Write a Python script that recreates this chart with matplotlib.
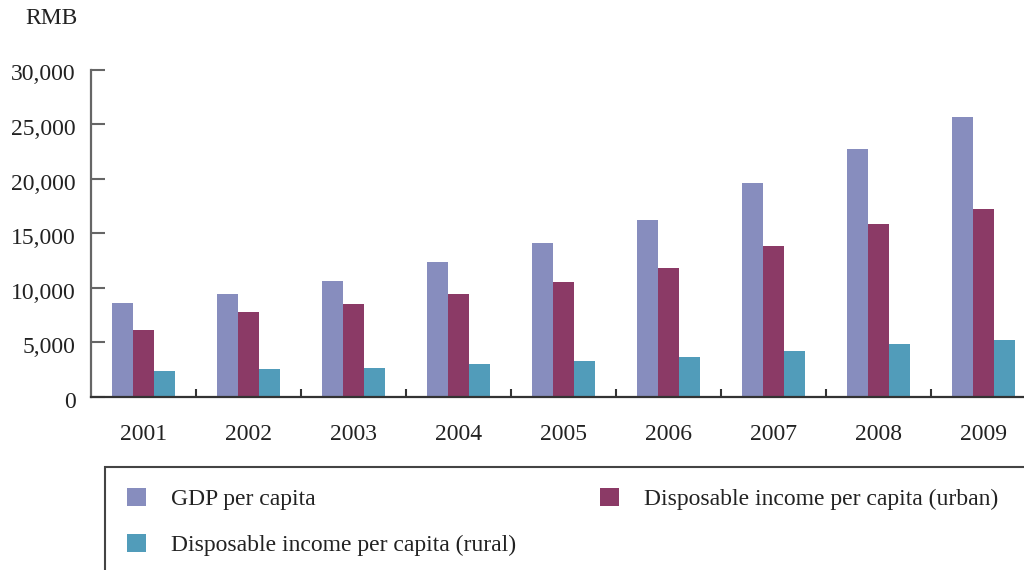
import matplotlib
matplotlib.use("Agg")
import matplotlib.pyplot as plt
import numpy as np
from matplotlib.patches import Rectangle
from matplotlib.transforms import ScaledTranslation

years = ["2001", "2002", "2003", "2004", "2005", "2006", "2007", "2008", "2009"]
gdp_per_capita = [8650, 9400, 10600, 12340, 14080, 16190, 19580, 22690, 25620]
urban_income = [6110, 7760, 8490, 9410, 10510, 11790, 13800, 15820, 17190]
rural_income = [2360, 2540, 2630, 3000, 3270, 3640, 4190, 4830, 5190]
series_labels = ["GDP per capita", "Disposable income per capita (urban)",
                 "Disposable income per capita (rural)"]
yticks = [0, 5000, 10000, 15000, 20000, 25000, 30000]
ytick_labels = ["0", "5,000", "10,000", "15,000", "20,000", "25,000", "30,000"]

colors = ["#878dbe", "#8b3a66", "#519cba"]

plt.rcParams["font.family"] = ["Liberation Serif", "DejaVu Serif"]

W, H = 1024, 570
fig = plt.figure(figsize=(W / 100, H / 100), dpi=100)
ax = fig.add_axes([91 / W, (H - 397) / H, 945 / W, (397 - 69.5) / H])

x = np.arange(len(years))
bw = 0.2
b1 = ax.bar(x - bw, gdp_per_capita, bw, color=colors[0], label=series_labels[0])
b2 = ax.bar(x, urban_income, bw, color=colors[1], label=series_labels[1])
b3 = ax.bar(x + bw, rural_income, bw, color=colors[2], label=series_labels[2])

ax.set_xlim(-0.5, len(years) - 0.5)
ax.set_ylim(0, 30000)
for s in ["top", "right"]:
    ax.spines[s].set_visible(False)
ax.spines["left"].set_color("#666666")
ax.spines["left"].set_linewidth(1.6)
ax.spines["bottom"].set_color("#333333")
ax.spines["bottom"].set_linewidth(1.6)

ax.set_yticks(yticks)
ax.set_yticklabels(ytick_labels)
ax.tick_params(axis="y", direction="in", length=10, width=1.5, color="#666666",
               labelsize=17, pad=11, labelcolor="#222222")
shift = ScaledTranslation(0, -0.03, fig.dpi_scale_trans)
for lab in ax.get_yticklabels():
    lab.set_transform(lab.get_transform() + shift)

ax.set_xticks(x)
ax.set_xticklabels(years)
ax.set_xticks(np.arange(0.5, len(years) - 1, 1.0), minor=True)
ax.tick_params(axis="x", which="major", length=0, labelsize=17, pad=19.5,
               labelcolor="#222222")
ax.tick_params(axis="x", which="minor", direction="in", length=6, width=1.5,
               color="#333333")

fig.text(25 / W, 1 - 19 / H, "RMB", fontsize=17, color="#222222",
         ha="left", va="center")

# legend frame (extends past the figure edges like the reference)
frame = Rectangle((105 / W, -0.1), 1.0, (H - 467) / H + 0.1,
                  transform=fig.transFigure, fill=False,
                  edgecolor="#444444", linewidth=1.5, clip_on=False)
fig.add_artist(frame)

leg = fig.legend([b1, b3, b2], [series_labels[0], series_labels[2], series_labels[1]],
                 ncol=2, loc="upper left",
                 bbox_to_anchor=(106 / W, 1 - 466.5 / H),
                 frameon=False, fontsize=17, handlelength=0.8, handleheight=0.8,
                 handletextpad=1.05, columnspacing=3.55, labelspacing=1.0,
                 labelcolor="#222222")

fig.savefig("out.png", dpi=100)
